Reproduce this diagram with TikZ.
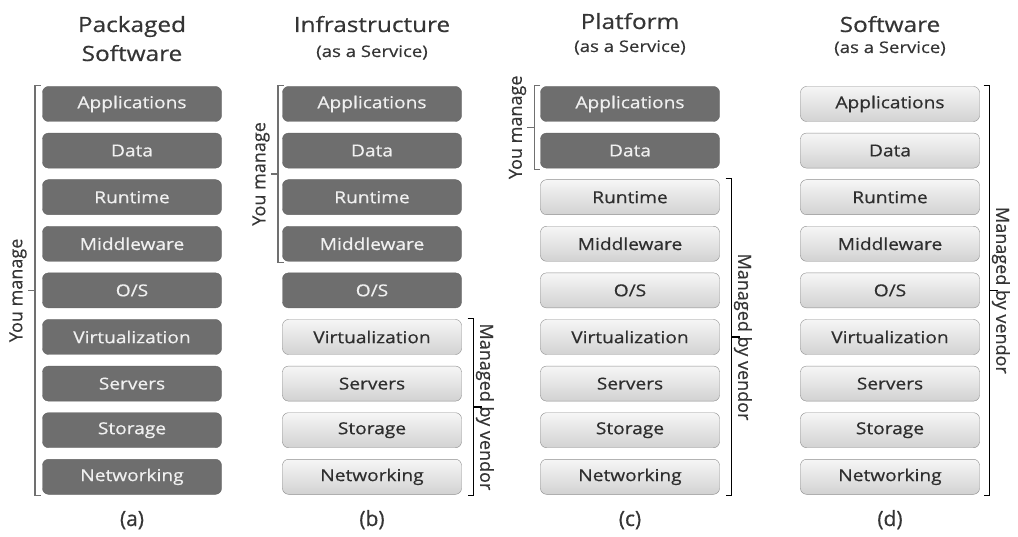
\documentclass[tikz,border=0pt]{standalone}
\usepackage{fontspec}
\setmainfont{Open Sans}[FakeBold=0.5]
\usepackage{graphicx}
\usetikzlibrary{calc}
\definecolor{darkbox}{HTML}{6E6E6E}
\definecolor{darkedge}{HTML}{646464}
\definecolor{darktext}{HTML}{F0F0F0}
\definecolor{lighttop}{HTML}{F6F6F6}
\definecolor{lightbot}{HTML}{D2D2D2}
\definecolor{lightedge}{HTML}{8E8E8E}
\definecolor{lighttext}{HTML}{2E2E2E}
\definecolor{graybrk}{HTML}{707070}
\definecolor{titletext}{HTML}{353535}
\newcommand\wide[1]{\scalebox{1.16}[1]{#1}}
\newcommand\leftbrk[5]{%
  \draw[lbrkst] ($(#1.north west)+(-#3+6,-1)$) -- ($(#1.north west)+(-#3,-1)$) coordinate (#4t)
     -- ($(#2.south west)+(-#3,1)$) coordinate (#4b) -- ++(6,0);
  \path ($(#4t)!0.5!(#4b)$) coordinate (#4m);
  \draw[lbrkst] (#4m) -- ++(-7,0) coordinate (#4e);
  \node[sidelbl, rotate=90, anchor=south] (#4l) at (#4e) {#5};
}
\newcommand\rightbrk[5]{%
  \draw[rbrkst] ($(#1.north east)+(#3-6,-1)$) -- ($(#1.north east)+(#3,-1)$) coordinate (#4t)
     -- ($(#2.south east)+(#3,1)$) coordinate (#4b) -- ++(-6,0);
  \path ($(#4t)!0.5!(#4b)$) coordinate (#4m);
  \draw[rbrkst] (#4m) -- ++(8,0) coordinate (#4e);
  \node[sidelbl, rotate=-90, anchor=south] (#4l) at ($(#4m)+(1,0)$) {#5};
}
\begin{document}
\begin{tikzpicture}[x=1pt,y=-1pt,
  box/.style={rounded corners=6pt, minimum width=179pt, minimum height=35pt, inner sep=0pt,
    font=\fontsize{16.5}{18}\selectfont},
  darkb/.style={box, fill=darkbox, draw=darkedge, text=darktext},
  lightb/.style={box, draw=lightedge, top color=lighttop, bottom color=lightbot, text=lighttext},
  titlest/.style={anchor=base, inner sep=0pt, text=titletext, font=\fontsize{21}{24}\selectfont},
  subst/.style={anchor=base, inner sep=0pt, text=titletext, font=\fontsize{16}{18}\selectfont},
  caplbl/.style={anchor=base, inner sep=0pt, text=titletext, font=\fontsize{21}{24}\selectfont},
  sidelbl/.style={inner sep=1pt, text=titletext, font=\fontsize{18}{20}\selectfont},
  lbrkst/.style={draw=graybrk, line width=1.4pt},
  rbrkst/.style={draw=black, line width=1.4pt}]
\useasboundingbox (0,0) rectangle (1018,537);
\foreach \cn/\cx/\nd in {a/132/9,b/372/5,c/630/2,d/890/0}{
  \foreach \t [count=\i] in {Applications,Data,Runtime,Middleware,{O/S},Virtualization,Servers,Storage,Networking}{
    \pgfmathsetmacro\yy{104+(\i-1)*46.6}
    \ifnum\i>\nd
      \node[lightb] (\cn\i) at (\cx,\yy) {\wide{\t}};
    \else
      \node[darkb] (\cn\i) at (\cx,\yy) {\wide{\t}};
    \fi
  }
}
% titles
\node[titlest] (ta1) at (132,32) {\wide{Packaged}};
\node[titlest] (ta2) at (132,61) {\wide{Software}};
\node[titlest] (tb1) at (372,32) {\wide{Infrastructure}};
\node[subst] (tb2) at (372,57) {\wide{(as a Service)}};
\node[titlest] (tc1) at (630,29) {\wide{Platform}};
\node[subst] (tc2) at (630,52) {\wide{(as a Service)}};
\node[titlest] (td1) at (890,32) {\wide{Software}};
\node[subst] (td2) at (890,53) {\wide{(as a Service)}};
% captions
\node[caplbl] (ca) at (132,526) {(a)};
\node[caplbl] (cb) at (372,526) {(b)};
\node[caplbl] (cc) at (630,526) {(c)};
\node[caplbl] (cd) at (890,526) {(d)};
% brackets
\leftbrk{a1}{a9}{7.5}{ba}{You manage}
\leftbrk{b1}{b4}{4.5}{bb}{You manage}
\leftbrk{c1}{c2}{6}{bc}{You manage}
\rightbrk{b6}{b9}{12}{rb}{Managed by vendor}
\rightbrk{c3}{c9}{12}{rc}{Managed by vendor}
\rightbrk{d1}{d9}{10}{rd}{Managed by vendor}
\end{tikzpicture}
\end{document}
